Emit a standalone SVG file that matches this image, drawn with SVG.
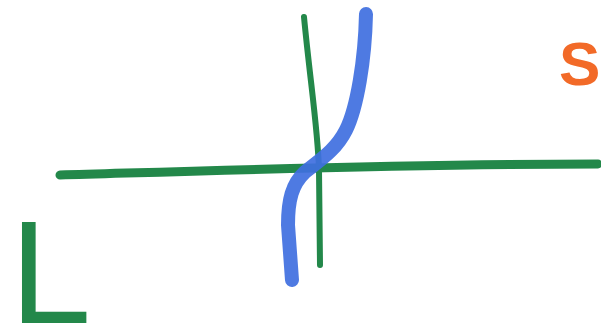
<svg xmlns="http://www.w3.org/2000/svg" width="601" height="328" viewBox="0 0 601 328">
<style>
.g{fill:none;stroke:#23884a;stroke-linecap:round;stroke-linejoin:round}
.b{fill:none;stroke:#3f6fe0;stroke-linecap:round;stroke-linejoin:round;stroke-opacity:0.92}
.lbl{font-family:"Liberation Sans",Arial,sans-serif}
</style>
<rect width="601" height="328" fill="#ffffff"/>
<g id="connectors">
<path id="hline" class="g" stroke-width="9" d="M60,175 C200,171 400,164 598,164"/>
<path id="vline" class="g" stroke-width="6" d="M304,17 C310,80 318,130 319,170 L320,265"/>
<path id="curve" class="b" stroke-width="14" d="M366,14 C365,60 357,108 346,130 C336,150 320,160 305,172 C292,184 288,200 288,225 L292,280"/>
</g>
<g id="label-S"><text class="lbl" x="559" y="85" font-size="62" font-weight="bold" fill="#f26a28">S</text></g>
<g id="label-L"><text class="lbl" x="10" y="323" font-size="146" fill="#23884a">L</text></g>
</svg>
